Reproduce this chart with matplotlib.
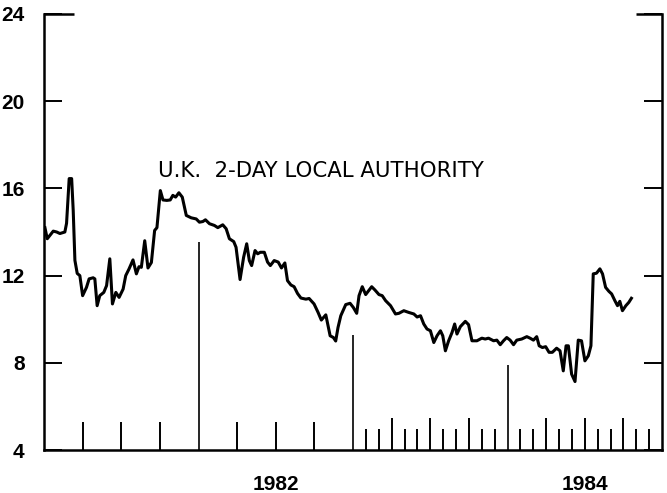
import matplotlib
matplotlib.use("Agg")
import matplotlib.pyplot as plt
import numpy as np

# ---- data: time (years after 1981.0) and rate (%) ----
t_offset = [0.006, 0.021, 0.060, 0.082, 0.103, 0.135, 0.146, 0.163, 0.179, 0.189,
            0.200, 0.215, 0.232, 0.250, 0.275, 0.292, 0.318, 0.329, 0.344, 0.361,
            0.387, 0.405, 0.426, 0.443, 0.465, 0.486, 0.512, 0.529, 0.550, 0.576,
            0.598, 0.615, 0.630, 0.652, 0.673, 0.695, 0.716, 0.731, 0.753, 0.770,
            0.795, 0.817, 0.834, 0.852, 0.873, 0.895, 0.921, 0.953, 0.985, 1.006,
            1.028, 1.045, 1.071, 1.103, 1.125, 1.157, 1.179, 1.200, 1.228, 1.243,
            1.269, 1.292, 1.312, 1.329, 1.344, 1.366, 1.383, 1.400, 1.426, 1.447,
            1.465, 1.490, 1.516, 1.537, 1.559, 1.576, 1.598, 1.619, 1.641, 1.663,
            1.695, 1.716, 1.748, 1.774, 1.795, 1.824, 1.852, 1.873, 1.888, 1.903,
            1.921, 1.953, 1.981, 2.002, 2.024, 2.039, 2.060, 2.082, 2.121, 2.142,
            2.168, 2.189, 2.211, 2.243, 2.275, 2.297, 2.329, 2.361, 2.394, 2.415,
            2.437, 2.458, 2.479, 2.501, 2.523, 2.544, 2.566, 2.581, 2.598, 2.619,
            2.641, 2.658, 2.673, 2.695, 2.727, 2.748, 2.770, 2.802, 2.834, 2.856,
            2.877, 2.910, 2.931, 2.953, 2.974, 2.995, 3.017, 3.039, 3.060, 3.092,
            3.125, 3.146, 3.168, 3.189, 3.205, 3.226, 3.247, 3.269, 3.290, 3.318,
            3.340, 3.361, 3.379, 3.394, 3.415, 3.437, 3.458, 3.479, 3.501, 3.523,
            3.540, 3.555, 3.576, 3.598, 3.615, 3.635, 3.656, 3.674, 3.695, 3.712,
            3.727, 3.744, 3.766, 3.785, 3.802]
rate = [14.20, 13.69, 14.04, 14.00, 13.93, 14.00, 14.40, 16.45, 16.45, 15.00,
        12.70, 12.10, 12.00, 11.08, 11.46, 11.85, 11.90, 11.85, 10.62, 11.08,
        11.23, 11.54, 12.77, 10.70, 11.23, 11.00, 11.38, 12.00, 12.30, 12.72,
        12.08, 12.41, 12.38, 13.60, 12.35, 12.60, 14.07, 14.20, 15.90, 15.47,
        15.45, 15.47, 15.68, 15.60, 15.80, 15.60, 14.76, 14.65, 14.60, 14.45,
        14.48, 14.56, 14.38, 14.30, 14.20, 14.33, 14.15, 13.69, 13.56, 13.30,
        11.82, 12.84, 13.46, 12.69, 12.46, 13.15, 13.00, 13.07, 13.07, 12.62,
        12.46, 12.69, 12.62, 12.35, 12.58, 11.77, 11.57, 11.49, 11.18, 10.97,
        10.92, 10.95, 10.70, 10.31, 9.96, 10.20, 9.24, 9.16, 9.00, 9.62,
        10.16, 10.67, 10.73, 10.54, 10.27, 11.08, 11.49, 11.13, 11.49, 11.34,
        11.13, 11.08, 10.85, 10.62, 10.24, 10.27, 10.39, 10.31, 10.24, 10.10,
        10.16, 9.78, 9.55, 9.47, 8.93, 9.24, 9.47, 9.24, 8.55, 9.01,
        9.39, 9.78, 9.32, 9.66, 9.90, 9.75, 9.01, 9.01, 9.13, 9.09,
        9.13, 9.01, 9.04, 8.83, 9.01, 9.16, 9.04, 8.83, 9.04, 9.09,
        9.20, 9.13, 9.04, 9.20, 8.78, 8.70, 8.74, 8.48, 8.48, 8.67,
        8.55, 7.63, 8.78, 8.78, 7.48, 7.14, 9.04, 9.01, 8.09, 8.32,
        8.78, 12.08, 12.11, 12.31, 12.08, 11.46, 11.28, 11.16, 10.85, 10.62,
        10.82, 10.39, 10.62, 10.77, 10.96]

start_year = 1981
end_year = 1985
year_labels = ["1982", "1984"]
year_label_pos = [1982.5, 1984.5]
y_ticks = [4, 8, 12, 16, 20, 24]
year_marker_years = [1982, 1983, 1984]
year_marker_tops = [13.53, 9.29, 7.9]
title_text = "U.K.  2-DAY LOCAL AUTHORITY"

t = start_year + np.array(t_offset)

fig = plt.figure(figsize=(6.67, 4.93), dpi=100)
ax = fig.add_axes([44/667, 1 - 450/493, (662 - 44)/667, (450 - 14)/493])

ax.plot(t, rate, color="black", lw=2.2, solid_joinstyle="round")

ax.set_xlim(start_year, end_year)
ax.set_ylim(4, 24)

# spines
for s in ["left", "bottom", "right"]:
    ax.spines[s].set_linewidth(1.8)
ax.spines["top"].set_visible(False)
ax.hlines(24, start_year, start_year + 0.195, color="black", lw=1.8, clip_on=False)
ax.hlines(24, end_year - 0.17, end_year, color="black", lw=1.8, clip_on=False)

# y ticks
ax.set_yticks(y_ticks)
ax.tick_params(axis="y", direction="in", length=13, width=1.4, pad=14,
               labelsize=15, right=True, left=True)
for lab in ax.get_yticklabels():
    lab.set_fontfamily("Liberation Sans")
    lab.set_fontweight("bold")
ax.set_xticks([])

# bottom ticks
for m in range(1, 48):
    x = start_year + m / 12
    if m % 12 == 0:
        continue
    if x < 1983:
        if m % 3 == 0:
            ax.vlines(x, 4, 5.3, color="black", lw=1.4)
    else:
        h = 1.45 if m % 3 == 0 else 0.97
        ax.vlines(x, 4, 4 + h, color="black", lw=1.4)

for yr, top in zip(year_marker_years, year_marker_tops):
    ax.vlines(yr, 4, top, color="black", lw=1.2)

for lab, pos in zip(year_labels, year_label_pos):
    ax.text(pos, -0.078, lab, transform=ax.get_xaxis_transform(),
            ha="center", va="center", fontsize=15, fontweight="bold",
            family="Liberation Sans")

ax.text(1981.735, 16.78, title_text, ha="left", va="center", fontsize=15.3,
        family="DejaVu Sans")

fig.savefig("out.png", dpi=100)
